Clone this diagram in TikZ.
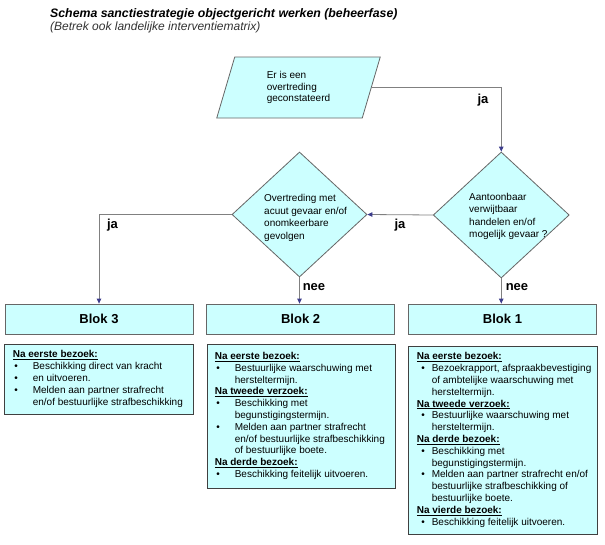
\documentclass[tikz,border=0pt]{standalone}
\usepackage{fontspec}
\setmainfont{Liberation Sans}
\usetikzlibrary{shapes.geometric,arrows.meta,calc}
\definecolor{boxfill}{HTML}{CCFFFF}
\definecolor{boxline}{HTML}{666666}
\definecolor{detline}{HTML}{404040}
\definecolor{connc}{HTML}{808080}
\definecolor{tipc}{HTML}{3C3C8C}
\newcommand\hdg[1]{\textbf{\underline{#1}}}
\newcommand\bua[1]{\hspace*{1.5pt}\makebox[18.5pt][l]{\textbullet}#1}
\newcommand\cta[1]{\hspace*{20pt}#1}
\newcommand\bub[1]{\hspace*{4.5pt}\makebox[10.5pt][l]{\textbullet}#1}
\newcommand\ctb[1]{\hspace*{15pt}#1}
\begin{document}
\begin{tikzpicture}[x=1pt,y=-1pt,
  shapebox/.style={draw=boxline,fill=boxfill,line width=0.8pt},
  para/.style={shapebox,trapezium,trapezium left angle=60.9,trapezium right angle=119.1,
    trapezium stretches body,minimum width=163.5pt,minimum height=61pt,inner sep=0pt,
    align=left,font=\fontsize{10}{11.5}\selectfont},
  qbox/.style={shapebox,diamond,inner sep=0pt,minimum width=136pt,minimum height=126pt},
  qtext/.style={inner sep=0pt,align=left,anchor=west,font=\fontsize{10}{12.4}\selectfont},
  blok/.style={shapebox,minimum width=188pt,minimum height=30pt,inner sep=0pt,
    font=\fontsize{13}{15}\selectfont\bfseries},
  det/.style={draw=detline,fill=boxfill,line width=0.8pt,minimum width=189pt,inner sep=0pt},
  dtext/.style={inner sep=0pt,align=left,anchor=west,font=\fontsize{10}{11.8}\selectfont},
  lab/.style={inner sep=0pt,font=\fontsize{13}{15}\selectfont\bfseries},
  conn/.style={draw=connc,line width=0.8pt,-{Triangle[length=5pt,width=4.5pt,color=tipc]}}
]
\fill[white] (0,0) rectangle (605,544);
\useasboundingbox (0,0) rectangle (605,544);

\node[anchor=base west,inner sep=0pt,font=\fontsize{12.3}{14}\selectfont\bfseries\itshape] (title) at (50,17)
  {Schema sanctiestrategie objectgericht werken (beheerfase)};
\node[anchor=base west,inner sep=0pt,font=\fontsize{12}{14}\selectfont\itshape,text=black!80] (sub) at (50,30)
  {(Betrek ook landelijke interventiematrix)};

\node[para] (start) at (298.5,87.5) {Er is een\\overtreding\\geconstateerd};

\node[qbox] (q1) at (501.25,215) {};
\node[qbox,minimum width=135pt,minimum height=125pt] (q2) at (299.5,214.5) {};
\node[qtext] (q1t) at (469,216.5) {Aantoonbaar\\verwijtbaar\\handelen en/of\\mogelijk gevaar ?};
\node[qtext] (q2t) at (264,218) {Overtreding met\\acuut gevaar en/of\\onomkeerbare\\gevolgen};

\node[blok] (b3) at (99,319) {Blok 3};
\node[blok] (b2) at (300.6,319) {Blok 2};
\node[blok] (b1) at (502.5,319) {Blok 1};

\draw[conn] (start.east) -| (q1.north);
\draw[conn] (q1.west) -- (q2.east);
\draw[conn] (q2.west) -| (b3.north);
\draw[conn] (q2.south) -- (q2.south |- b2.north);
\draw[conn] (q1.south) -- (q1.south |- b1.north);

\node[lab] (l1) at (483,100) {ja};
\node[lab] (l2) at (400,225) {ja};
\node[lab] (l3) at (112.5,225) {ja};
\node[lab] (l4) at (314,287) {nee};
\node[lab] (l5) at (517,287) {nee};

\node[det,minimum height=70pt] (d3) at (98.5,379) {};
\node[det,minimum height=144pt,minimum width=188pt] (d2) at (301,416) {};
\node[det,minimum height=188pt] (d1) at (502.5,440) {};

\node[dtext] (d3t) at ($(d3.west)+(9,0)$) {\hdg{Na eerste bezoek:}\\
  \bua{Beschikking direct van kracht}\\
  \bua{en uitvoeren.}\\
  \bua{Melden aan partner strafrecht}\\
  \cta{en/of bestuurlijke strafbeschikking}};

\node[dtext] (d2t) at ($(d2.west)+(8,0)$) {\hdg{Na eerste bezoek:}\\
  \bua{Bestuurlijke waarschuwing met}\\
  \cta{hersteltermijn.}\\
  \hdg{Na tweede verzoek:}\\
  \bua{Beschikking met}\\
  \cta{begunstigingstermijn.}\\
  \bua{Melden aan partner strafrecht}\\
  \cta{en/of bestuurlijke strafbeschikking}\\
  \cta{of bestuurlijke boete.}\\
  \hdg{Na derde bezoek:}\\
  \bua{Beschikking feitelijk uitvoeren.}};

\node[dtext] (d1t) at ($(d1.west)+(9,0)$) {\hdg{Na eerste bezoek:}\\
  \bub{Bezoekrapport, afspraakbevestiging}\\
  \ctb{of ambtelijke waarschuwing met}\\
  \ctb{hersteltermijn.}\\
  \hdg{Na tweede verzoek:}\\
  \bub{Bestuurlijke waarschuwing met}\\
  \ctb{hersteltermijn.}\\
  \hdg{Na derde bezoek:}\\
  \bub{Beschikking met}\\
  \ctb{begunstigingstermijn.}\\
  \bub{Melden aan partner strafrecht en/of}\\
  \ctb{bestuurlijke strafbeschikking of}\\
  \ctb{bestuurlijke boete.}\\
  \hdg{Na vierde bezoek:}\\
  \bub{Beschikking feitelijk uitvoeren.}};
\end{tikzpicture}
\end{document}
